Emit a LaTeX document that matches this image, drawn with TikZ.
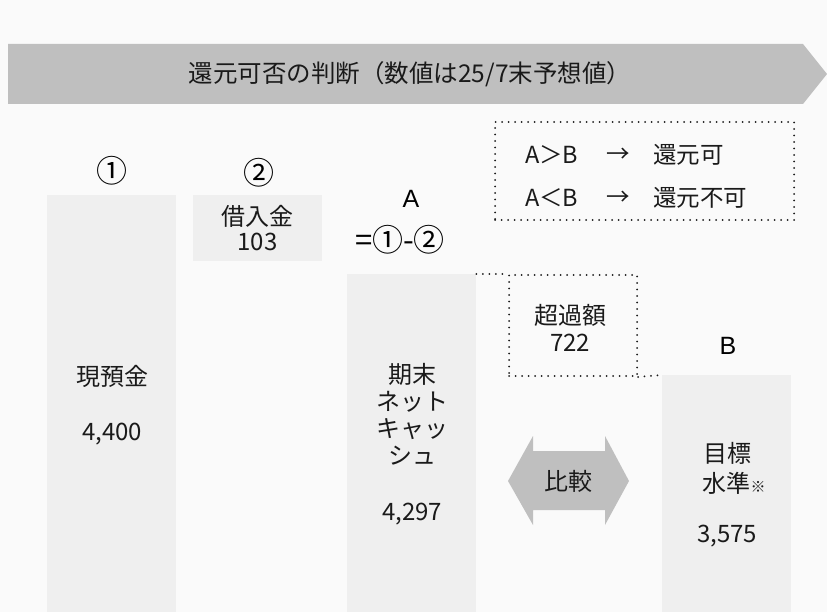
\documentclass[tikz,border=0pt]{standalone}
\usepackage{fontspec}
\setmainfont{Noto Sans CJK JP}
\newfontfamily\lat{Liberation Sans}
\definecolor{bgc}{HTML}{FAFAFA}
\definecolor{banc}{HTML}{BFBFBF}
\definecolor{barc}{HTML}{EFEFEF}
\definecolor{txt}{HTML}{1A1A1A}
\begin{document}
\begin{tikzpicture}[x=1pt,y=-1pt,
  bar/.style={fill=barc, draw=none, inner sep=0pt, anchor=north west},
  lbl/.style={font=\fontsize{24}{27}\selectfont, align=center, text=txt, inner sep=0pt},
  big/.style={font=\lat\fontsize{25}{28}\selectfont, text=black, inner sep=0pt},
  circ/.style={font=\fontsize{31}{34}\selectfont, text=black, inner sep=0pt},
  leg/.style={font=\fontsize{23.5}{26}\selectfont, text=txt, inner sep=0pt},
  dots/.style={draw=txt, line width=2pt, dash pattern=on 0pt off 6.5pt, line cap=round}]
\fill[bgc] (0,0) rectangle (827,612);
\useasboundingbox (0,0) rectangle (827,612);

% banner
\fill[banc] (8,44) -- (803,44) -- (827,74) -- (803,104) -- (8,104) -- cycle;
\node[lbl, font=\fontsize{24.5}{28}\selectfont] (title) at (410,74) {還元可否の判断（数値は25/7末予想値）};

% bars
\node[bar, minimum width=129, minimum height=417] (b1) at (47,195) {};
\node[bar, minimum width=129, minimum height=66] (b2) at (193,195) {};
\node[bar, minimum width=129, minimum height=338] (bA) at (347,274) {};
\node[bar, minimum width=129, minimum height=237] (bB) at (662,375) {};

\node[lbl] (t1) at (112,405) {現預金\\[28pt]4,400};
\node[lbl, font=\fontsize{24}{25}\selectfont] (t2) at (257.5,228) {借入金\\103};
\node[lbl] (tA) at (412,444) {期末\\ネット\\キャッ\\シュ\\[29pt]4,297};
\node[lbl] (tB) at (727,495) {目標\\[3pt]\hspace*{0.6em}水準{\fontsize{15}{15}\selectfont ※}\\[23pt]3,575};

% headings
\node[circ] (h1) at (112,171) {①};
\node[circ] (h2) at (259,173) {②};
\node[big] (hA) at (411,199) {A};
\node[circ] (hA2) at (400,240) {=①-②};
\node[big] (hB) at (728,346) {B};

% legend
\node[dots, minimum width=299, minimum height=98, anchor=north west, inner sep=0pt] (leg) at (494,121) {};
\node[leg, anchor=west] (l1a) at (525,155) {A＞B};
\node[leg] (l1b) at (618,155) {→};
\node[leg, anchor=west] (l1c) at (653,155) {還元可};
\node[leg, anchor=west] (l2a) at (525,198) {A＜B};
\node[leg] (l2b) at (618,198) {→};
\node[leg, anchor=west] (l2c) at (653,198) {還元不可};

% excess
\node[dots, minimum width=128, minimum height=101, anchor=north west, inner sep=0pt] (ex) at (508,274) {};
\node[lbl] (ext) at (570,328) {超過額\\722};
\draw[dots] (bA.north east) -- (ex.north west);
\draw[dots] (ex.south east) -- (bB.north west);

% compare arrow
\fill[banc] (508,481) -- (533,436) -- (533,451) -- (605,451) -- (605,436) -- (629,481)
  -- (605,525) -- (605,510) -- (533,510) -- (533,525) -- cycle;
\node[lbl] (cmp) at (568,481) {比較};
\end{tikzpicture}
\end{document}
